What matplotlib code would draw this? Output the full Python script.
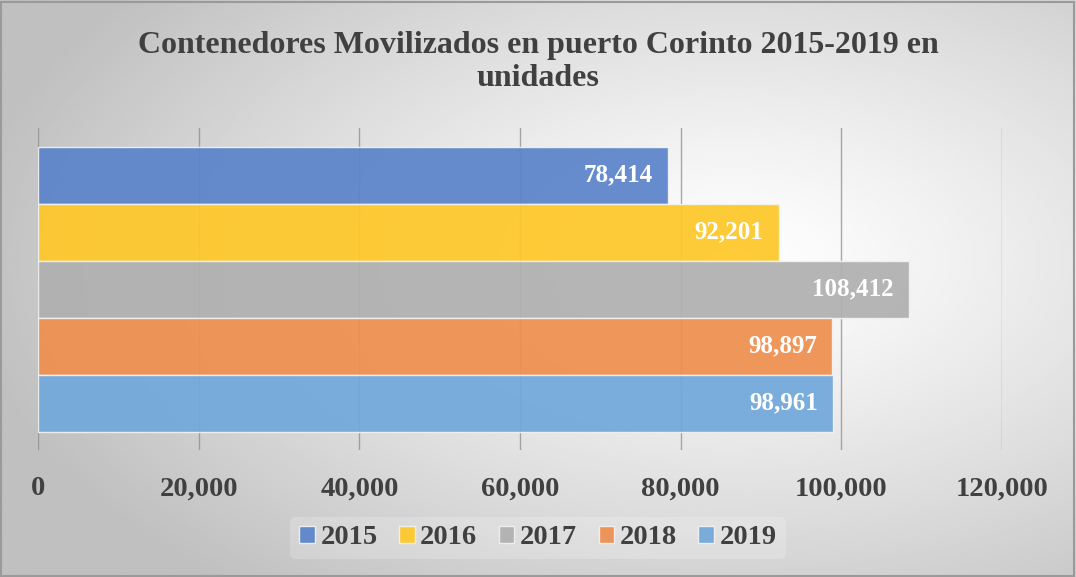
import numpy as np
import matplotlib.pyplot as plt
from matplotlib.patches import Rectangle

years = ['2015', '2016', '2017', '2018', '2019']
containers = [78414, 92201, 108412, 98897, 98961]
bar_colors = ['#5B84CB', '#FFC829', '#B0B0B0', '#EF8F4F', '#72A8DB']
xticks = [0, 20000, 40000, 60000, 80000, 100000, 120000]
title = 'Contenedores Movilizados en puerto Corinto 2015-2019 en\nunidades'

plt.rcParams['font.family'] = ['Liberation Serif', 'DejaVu Serif']

fig = plt.figure(figsize=(10.76, 5.77), dpi=100)

# radial gradient background, light in the middle, grey at the corners
bg = fig.add_axes([0, 0, 1, 1], zorder=-10)
gx, gy = np.meshgrid(np.linspace(0, 1, 400), np.linspace(0, 1, 220))
r = np.sqrt(((gx - 0.68) / 0.72) ** 2 + ((gy - 0.55) / 0.75) ** 2)
shade = 1.0 - 0.25 * np.clip(r, 0, 1) ** 1.2
bg.imshow(shade, cmap='gray', vmin=0, vmax=1, extent=[0, 1, 0, 1],
          aspect='auto', origin='lower')
bg.add_patch(Rectangle((0.001, 0.002), 0.997, 0.995, fill=False,
                       edgecolor='#9a9a9a', linewidth=1.5))
bg.set_axis_off()

ax = fig.add_axes([38 / 1076, 1 - 450 / 577, (1002 - 38) / 1076, 322 / 577])
ax.patch.set_alpha(0)

ypos = np.arange(len(years))
for i, (yr, val, col) in enumerate(zip(years, containers, bar_colors)):
    ax.barh(ypos[i], val, height=1.0, color=col, alpha=0.93,
            edgecolor='#f2f2f2', linewidth=1.0, label=yr, zorder=3)
    ax.text(val - 1900, ypos[i], f'{val:,}', ha='right', va='center',
            color='white', fontsize=18, fontweight='bold', zorder=5)

ax.set_xlim(0, 120000)
ax.set_ylim(4.5 + 0.32, -0.5 - 0.33)
ax.set_xticks(xticks)
ax.set_xticklabels([f'{t:,}' for t in xticks])
ax.grid(axis='x', color='#8c8c8c', linewidth=1.0, zorder=4, alpha=0.75)
ax.set_yticks([])
for s in ax.spines.values():
    s.set_visible(False)
ax.tick_params(axis='x', length=0, pad=19, labelsize=20.5, labelcolor='#404040')
for lbl in ax.get_xticklabels():
    lbl.set_fontweight('bold')

fig.text(0.5, 1 - 62 / 577, title, ha='center', va='center', fontsize=23,
         fontweight='bold', color='#404040', linespacing=1.15)

leg = fig.legend(loc='center', bbox_to_anchor=(0.5, 1 - 538 / 577), ncol=5,
                 frameon=True, fontsize=20.5, handlelength=0.55, handleheight=0.55,
                 handletextpad=0.2, columnspacing=0.75, borderpad=0.3)
leg.get_frame().set_facecolor('white')
leg.get_frame().set_alpha(0.2)
leg.get_frame().set_edgecolor('none')
for t in leg.get_texts():
    t.set_fontweight('bold')
    t.set_color('#404040')

fig.savefig('out.png', dpi=100)
